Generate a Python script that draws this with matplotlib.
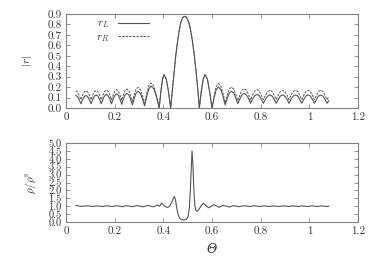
import matplotlib
matplotlib.use("Agg")
import matplotlib.pyplot as plt

plt.rcParams['font.family'] = ['cmr10', 'DejaVu Serif']
plt.rcParams['mathtext.fontset'] = 'cm'
plt.rcParams['axes.formatter.use_mathtext'] = True

# ---- top panel data: |r| vs Theta ----
theta_top = [
    0.040, 0.047, 0.054, 0.061, 0.068, 0.075, 0.082, 0.089, 0.096, 0.103, 0.110, 0.117, 0.124,
    0.131, 0.138, 0.145, 0.152, 0.159, 0.166, 0.173, 0.180, 0.187, 0.194, 0.201, 0.208,
    0.215, 0.222, 0.229, 0.236, 0.243, 0.250, 0.258, 0.265, 0.273, 0.281, 0.288, 0.296,
    0.305, 0.314, 0.323, 0.332, 0.341, 0.350, 0.361, 0.372, 0.383, 0.390, 0.397, 0.403,
    0.412, 0.421, 0.430,
    0.437, 0.444, 0.451, 0.458, 0.465, 0.472, 0.479, 0.487, 0.495, 0.503, 0.511, 0.519,
    0.527, 0.535, 0.542, 0.548,
    0.556, 0.564, 0.571, 0.581, 0.590, 0.600, 0.609, 0.617, 0.626, 0.636, 0.645, 0.654,
    0.663, 0.671, 0.680, 0.689, 0.697, 0.706, 0.715, 0.723, 0.732, 0.741, 0.750, 0.758,
    0.767, 0.776, 0.785, 0.794, 0.802, 0.811, 0.820, 0.829, 0.838, 0.847, 0.855, 0.864,
    0.873, 0.881, 0.890, 0.899, 0.908, 0.916, 0.925, 0.934, 0.943, 0.952, 0.960, 0.969,
    0.978, 0.986, 0.995, 1.004, 1.012, 1.021, 1.030, 1.038, 1.047, 1.056, 1.064, 1.073, 1.080,
]

r_L = [
    0.120, 0.110, 0.080, 0.040, 0.080, 0.110, 0.120, 0.110, 0.080, 0.040, 0.083, 0.114, 0.125,
    0.114, 0.083, 0.040, 0.085, 0.118, 0.130, 0.118, 0.085, 0.040, 0.088, 0.123, 0.135,
    0.122, 0.085, 0.035, 0.088, 0.126, 0.140, 0.126, 0.085, 0.030, 0.095, 0.143, 0.160,
    0.142, 0.090, 0.020, 0.115, 0.185, 0.210, 0.183, 0.105, 0.000, 0.160, 0.278, 0.320,
    0.278, 0.160, 0.000,
    0.170, 0.340, 0.500, 0.630, 0.740, 0.820, 0.865, 0.878, 0.868, 0.830, 0.760, 0.650,
    0.510, 0.340, 0.170, 0.000,
    0.160, 0.278, 0.320, 0.278, 0.160, 0.000, 0.100, 0.174, 0.200, 0.178, 0.115, 0.030,
    0.095, 0.143, 0.160, 0.144, 0.100, 0.040, 0.090, 0.126, 0.140, 0.127, 0.092, 0.045,
    0.088, 0.119, 0.130, 0.119, 0.088, 0.045, 0.085, 0.115, 0.125, 0.115, 0.085, 0.045,
    0.085, 0.115, 0.125, 0.115, 0.085, 0.045, 0.085, 0.115, 0.125, 0.115, 0.085, 0.045,
    0.085, 0.115, 0.125, 0.115, 0.085, 0.045, 0.085, 0.115, 0.125, 0.115, 0.085, 0.045, 0.070,
]

r_R = [
    0.165, 0.154, 0.122, 0.080, 0.122, 0.154, 0.165, 0.154, 0.122, 0.080, 0.124, 0.157, 0.168,
    0.157, 0.124, 0.080, 0.126, 0.160, 0.172, 0.160, 0.125, 0.078, 0.127, 0.163, 0.176,
    0.162, 0.124, 0.072, 0.127, 0.168, 0.182, 0.166, 0.122, 0.062, 0.130, 0.180, 0.198,
    0.178, 0.122, 0.045, 0.142, 0.215, 0.240, 0.209, 0.120, 0.000, 0.160, 0.278, 0.320,
    0.278, 0.160, 0.000,
    0.170, 0.340, 0.500, 0.630, 0.740, 0.820, 0.865, 0.878, 0.868, 0.830, 0.760, 0.650,
    0.510, 0.340, 0.170, 0.000,
    0.160, 0.278, 0.320, 0.278, 0.160, 0.000, 0.118, 0.204, 0.235, 0.211, 0.142, 0.050,
    0.125, 0.180, 0.200, 0.183, 0.135, 0.070, 0.128, 0.170, 0.185, 0.171, 0.130, 0.075,
    0.125, 0.162, 0.175, 0.161, 0.128, 0.080, 0.125, 0.158, 0.170, 0.158, 0.125, 0.080,
    0.125, 0.158, 0.170, 0.158, 0.125, 0.080, 0.125, 0.158, 0.170, 0.158, 0.125, 0.080,
    0.125, 0.158, 0.170, 0.158, 0.125, 0.080, 0.125, 0.158, 0.170, 0.158, 0.125, 0.080, 0.110,
]

# ---- bottom panel data: rho/rho^s vs Theta ----
theta_bot = [
    0.040, 0.050, 0.061, 0.072, 0.085, 0.100, 0.110, 0.125, 0.140, 0.150, 0.165, 0.180,
    0.190, 0.205, 0.220, 0.232, 0.248, 0.262, 0.275, 0.290, 0.305, 0.318, 0.335, 0.348,
    0.360, 0.375, 0.385, 0.393, 0.405, 0.415, 0.425, 0.433, 0.440, 0.445, 0.450, 0.455,
    0.460, 0.466, 0.475, 0.485, 0.495, 0.502, 0.507, 0.511, 0.515, 0.518, 0.521, 0.525,
    0.529, 0.534, 0.540, 0.548, 0.556, 0.565, 0.575, 0.585, 0.595, 0.607, 0.620, 0.630,
    0.645, 0.660, 0.672, 0.688, 0.700, 0.712, 0.730, 0.745, 0.758, 0.772, 0.785, 0.800,
    0.811, 0.825, 0.838, 0.852, 0.864, 0.878, 0.890, 0.905, 0.916, 0.930, 0.943, 0.957,
    0.969, 0.982, 0.995, 1.010, 1.021, 1.035, 1.047, 1.062, 1.073, 1.080,
]

rho = [
    1.05, 1.02, 0.99, 1.00, 1.03, 1.00, 0.98, 1.02, 1.00, 0.98, 1.03, 1.00,
    0.98, 1.03, 1.00, 0.97, 1.04, 1.00, 0.97, 1.04, 1.00, 0.96, 1.05, 1.00,
    0.96, 1.08, 1.00, 1.20, 1.00, 0.92, 0.98, 1.20, 1.45, 1.62, 1.40, 0.90,
    0.50, 0.25, 0.15, 0.13, 0.16, 0.35, 0.90, 2.00, 3.50, 4.50, 3.80, 2.20,
    1.10, 0.72, 0.68, 0.85, 1.05, 1.18, 1.05, 0.90, 0.97, 1.10, 1.00, 0.93,
    1.05, 1.00, 0.95, 1.04, 1.00, 0.97, 1.03, 1.00, 0.98, 1.03, 1.00, 0.98,
    1.02, 1.00, 0.98, 1.02, 1.00, 0.98, 1.02, 1.00, 0.98, 1.02, 1.00, 0.98,
    1.02, 1.00, 0.98, 1.02, 1.00, 0.98, 1.02, 1.00, 0.98, 1.00,
]

top_yticks = [0.0, 0.1, 0.2, 0.3, 0.4, 0.5, 0.6, 0.7, 0.8, 0.9]
bot_yticks = [0.0, 0.5, 1.0, 1.5, 2.0, 2.5, 3.0, 3.5, 4.0, 4.5, 5.0]
xticks = [0, 0.2, 0.4, 0.6, 0.8, 1.0, 1.2]
xticklabels = ["0", "0.2", "0.4", "0.6", "0.8", "1", "1.2"]

W, H = 374, 262
fig = plt.figure(figsize=(W / 100, H / 100), dpi=100)
ax1 = fig.add_axes([66 / W, 1 - 108 / H, (358 - 66) / W, (108 - 14) / H])
ax2 = fig.add_axes([66 / W, 1 - 222 / H, (358 - 66) / W, (222 - 143) / H])

line_col = '#555555'
spine_col = '#808080'
text_col = '#333333'

ax1.plot(theta_top, r_L, color=line_col, lw=0.8, label=r'$r_L$')
ax1.plot(theta_top, r_R, color=line_col, lw=0.7, dashes=(2.5, 1.2), label=r'$r_R$')
ax2.plot(theta_bot, rho, color=line_col, lw=0.8)

for ax, yt, ysz in ((ax1, top_yticks, 8), (ax2, bot_yticks, 7.5)):
    ax.set_xlim(0, 1.2)
    ax.set_ylim(yt[0], yt[-1])
    ax.set_yticks(yt)
    ax.set_yticklabels([f"{v:.1f}" for v in yt])
    ax.set_xticks(xticks)
    ax.set_xticklabels(xticklabels)
    ax.tick_params(direction='in', top=True, right=True, length=3, width=0.6,
                   labelsize=8, color=spine_col, labelcolor=text_col, pad=3)
    ax.tick_params(axis='y', labelsize=ysz)
    for s in ax.spines.values():
        s.set_color(spine_col)
        s.set_linewidth(0.8)

ax1.set_ylabel(r'$|r|$', fontsize=8, labelpad=10, color=text_col)
ax2.set_ylabel(r'$\rho/\rho^{\mathrm{s}}$', fontsize=8, labelpad=7, color=text_col)
ax2.set_xlabel('Θ', fontsize=9, labelpad=5, color=text_col,
               family=['DejaVu Serif'], style='italic')

leg = ax1.legend(loc='upper left', bbox_to_anchor=(0.08, 1.02), frameon=False,
                 markerfirst=False, fontsize=8, handlelength=2.8, labelspacing=0.15,
                 handletextpad=0.8, borderaxespad=0.2)
for t in leg.get_texts():
    t.set_color(text_col)

fig.savefig('out.png', dpi=100)
